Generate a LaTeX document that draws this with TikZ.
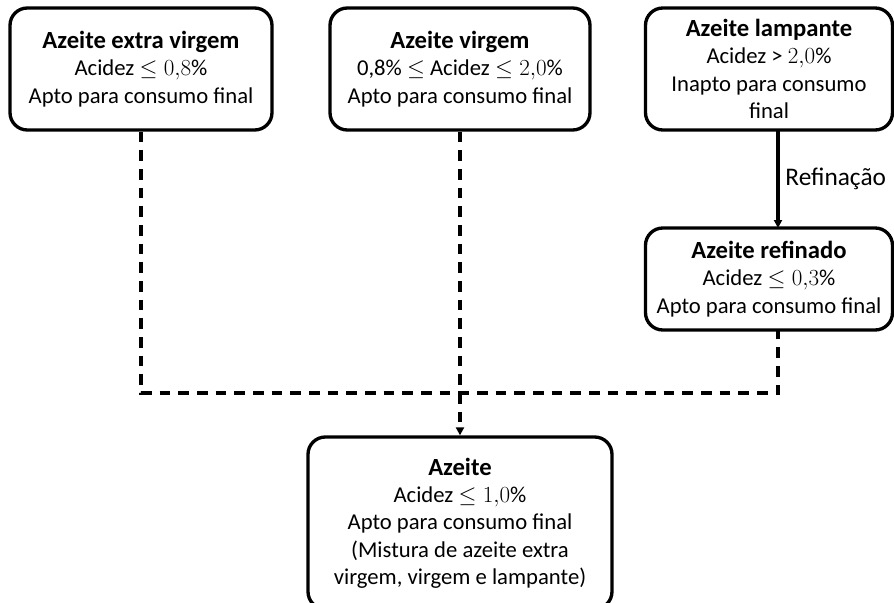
\documentclass[tikz,border=0pt]{standalone}
\usepackage{fontspec}
\setmainfont{Carlito}
\usetikzlibrary{arrows.meta}
\newcommand{\heading}[1]{{\fontsize{18.5}{20.5}\selectfont\bfseries #1}}
\begin{document}
\begin{tikzpicture}[x=0.75pt,y=-0.75pt,
  box/.style={draw=black,line width=2.5pt,rounded corners=13pt,fill=white,
    align=center,inner sep=0pt,font=\fontsize{17}{20.5}\selectfont},
  link/.style={line width=2.5pt,dash pattern=on 8pt off 6pt},
  tip/.style={-{Triangle[length=6pt,width=6pt]}}]
\useasboundingbox (0,0) rectangle (894,603);
\clip (0,0) rectangle (894,603);
\node[box,minimum width=262*0.75pt,minimum height=122*0.75pt] (b1) at (141,69)
  {\heading{Azeite extra virgem}\\Acidez $\leq 0{,}8\%$\\Apto para consumo final};
\node[box,minimum width=260*0.75pt,minimum height=122*0.75pt] (b2) at (460,69)
  {\heading{Azeite virgem}\\0,8\% $\leq$ Acidez $\leq 2{,}0\%$\\Apto para consumo final};
\node[box,minimum width=247*0.75pt,minimum height=122*0.75pt] (b3) at (769,69)
  {\heading{Azeite lampante}\\Acidez > $2{,}0\%$\\Inapto para consumo\\final};
\node[box,minimum width=247*0.75pt,minimum height=102*0.75pt] (b4) at (769,279)
  {\heading{Azeite refinado}\\Acidez $\leq 0{,}3\%$\\Apto para consumo final};
\node[box,minimum width=304*0.75pt,minimum height=172*0.75pt] (b5) at (460,523)
  {\heading{Azeite}\\Acidez $\leq 1{,}0\%$\\Apto para consumo final\\(Mistura de azeite extra\\virgem, virgem e lampante)};
\coordinate (top3) at (778,130);
\coordinate (bot4) at (778,330);
\coordinate (top4) at (778,228);
\coordinate (j) at (460,393);
\draw[line width=2.5pt,tip] (top3) -- (top4)
  node[midway,right=1pt,font=\fontsize{19}{22}\selectfont] (lbl) {Refinação};
\draw[link] (b1.south) |- (j) -| (bot4);
\draw[link,tip] (b2.south) -- (b5.north);
\end{tikzpicture}
\end{document}
